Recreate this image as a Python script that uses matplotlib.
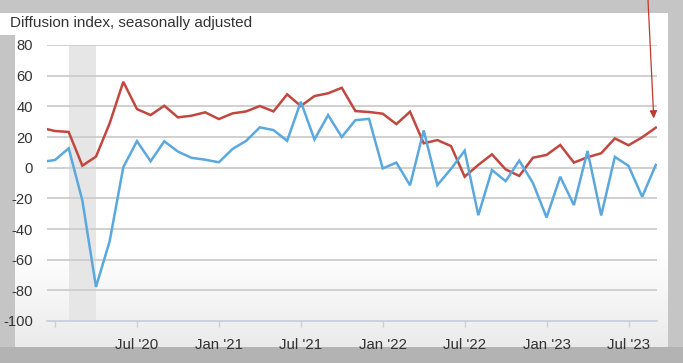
import numpy as np
import matplotlib
matplotlib.use("Agg")
import matplotlib.pyplot as plt
from matplotlib.patches import Rectangle

# ---- data (month index: 0 = Jan 2020; first point Dec 2019 is clipped at left edge)
months = np.arange(-1, 45)
future_index = [26.0,
                23.9, 23.3, 1.3, 7.2, 28.9, 56.0, 38.2, 34.3, 40.4, 32.8, 33.9, 36.1,
                31.7, 35.4, 36.7, 40.2, 36.7, 47.8, 40.2, 46.7, 48.5, 52.1, 36.9, 36.3,
                35.2, 28.4, 36.5, 15.9, 18.0, 14.1, -5.9, 1.8, 8.7, -1.1, -5.4, 6.5,
                8.3, 14.8, 3.3, 6.8, 9.4, 19.1, 14.6, 19.8, 26.1]
current_index = [3.7,
                 5.0, 12.6, -21.3, -77.8, -48.0, 0.3, 17.3, 4.2, 17.2, 10.5, 6.4, 5.2,
                 3.5, 12.2, 17.5, 26.3, 24.5, 17.5, 43.0, 18.4, 34.3, 20.0, 31.0, 31.8,
                 -0.5, 3.3, -11.5, 24.3, -11.4, -0.8, 11.1, -31.0, -1.5, -8.8, 4.6, -10.0,
                 -32.5, -5.9, -24.4, 10.9, -31.2, 7.0, 1.2, -19.0, 1.8]
recession = (1, 3)  # Feb 2020 .. Apr 2020
tick_months = [0, 6, 12, 18, 24, 30, 36, 42]
tick_labels = ["", "Jul '20", "Jan '21", "Jul '21", "Jan '22", "Jul '22", "Jan '23", "Jul '23"]
y_ticks = list(range(-100, 81, 20))
title = "Diffusion index, seasonally adjusted"

plt.rcParams['font.family'] = ['Liberation Sans', 'DejaVu Sans']

W, H = 683, 363
fig = plt.figure(figsize=(W / 100, H / 100), dpi=100, facecolor='#c5c5c5')

# ---- background (screenshot frame) in pixel coordinates
bg = fig.add_axes([0, 0, 1, 1])
bg.set_xlim(0, W)
bg.set_ylim(H, 0)
bg.axis('off')
bg.add_patch(Rectangle((0, 347), W, H - 347, color='#b3b3b3', lw=0))
grad = np.linspace(0, 1, 200)
grad = np.clip((grad - 0.72) / 0.28, 0, 1)
g = 1.0 - 0.08 * grad
img = np.dstack([g, g, g])[0][:, None, :]
img = np.repeat(img, 2, axis=1)
bg.imshow(img, extent=(15, 668, 347, 13), aspect='auto', interpolation='bilinear')
bg.add_patch(Rectangle((0, 13), 15, 22, color='white', lw=0))

# ---- main axes
L, R, T, B = 46.7, 656.5, 45, 321
ax = fig.add_axes([L / W, 1 - B / H, (R - L) / W, (B - T) / H])
ax.set_facecolor('none')
ax.set_xlim(-0.61, 44.05)
ax.set_ylim(-100, 80)

ax.axvspan(recession[0], recession[1], color='#e6e6e6', lw=0, zorder=0)
for yv in y_ticks[1:]:
    ax.axhline(yv, color='#cdcdcd', lw=1.3, zorder=1)

ax.plot(months, future_index, color='#c1473f', lw=1.8, zorder=3, solid_joinstyle='miter')
ax.plot(months, current_index, color='#5aa8dd', lw=1.8, zorder=3, solid_joinstyle='miter')

for s in ['top', 'right', 'left']:
    ax.spines[s].set_visible(False)
ax.spines['bottom'].set_color('#c8cedb')
ax.spines['bottom'].set_linewidth(1.3)

ax.set_xticks(tick_months)
ax.set_xticklabels(tick_labels)
ax.set_yticks(y_ticks)
ax.set_yticklabels([str(v) for v in y_ticks])
ax.tick_params(axis='x', direction='out', length=4, width=1, color='#c8cedb',
               labelsize=10.8, labelcolor='#333333', pad=8)
ax.tick_params(axis='y', length=0, labelsize=10.6, labelcolor='#333333', pad=10)

# ---- annotation arrow pointing at the latest value
ax.annotate('', xy=(months[-1] - 0.15, future_index[-1] + 6),
            xytext=(648 / W, 1.0), textcoords='figure fraction',
            arrowprops=dict(arrowstyle='-|>,head_length=0.45,head_width=0.22',
                            color='#c0392b', lw=0.9, mutation_scale=10,
                            shrinkA=0, shrinkB=0),
            annotation_clip=False, zorder=5)

fig.text(10 / W, 1 - 27 / H, title, fontsize=11, color='#333333', ha='left', va='baseline')

fig.savefig('out.png', dpi=100, facecolor=fig.get_facecolor())
